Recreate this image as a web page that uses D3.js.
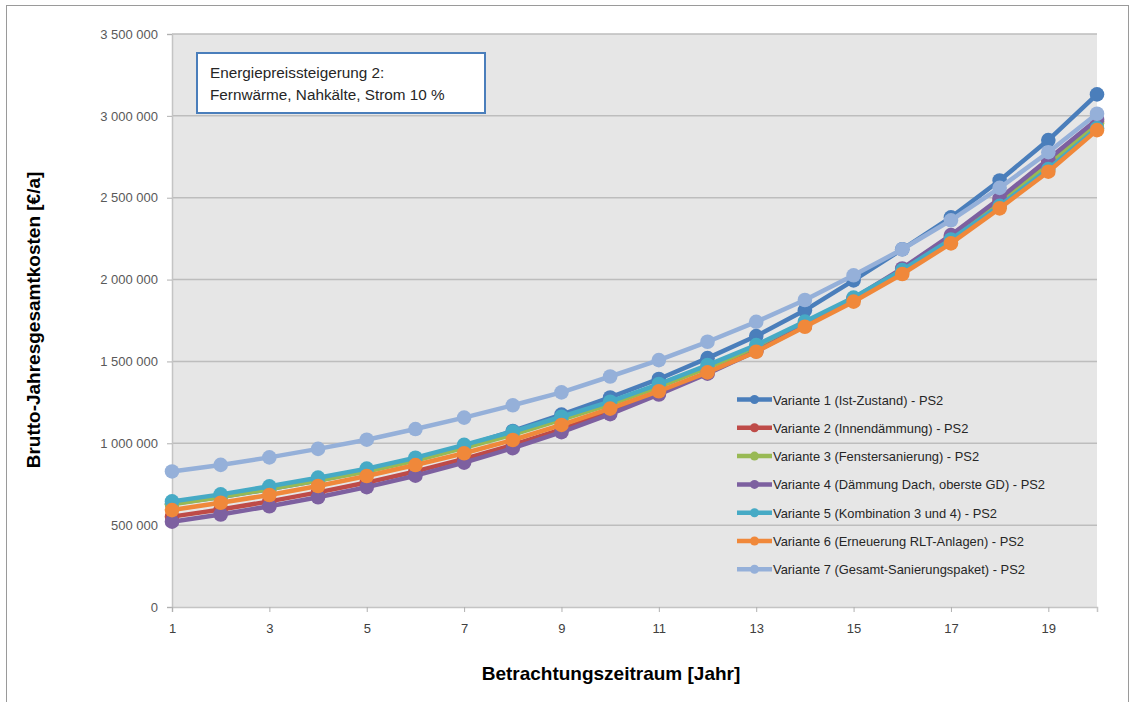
<!DOCTYPE html>
<html>
<head>
<meta charset="utf-8">
<script src="https://cdn.jsdelivr.net/npm/d3@7"></script>
<style>
  body { margin: 0; background: #fff; }
  svg { display: block; font-family: "Liberation Sans", Arial, sans-serif; }
</style>
</head>
<body>
<svg id="chart"></svg>
<script>
const years = d3.range(1, 21);
const xTicks = [1, 3, 5, 7, 9, 11, 13, 15, 17, 19];
const yTicks = [0, 500000, 1000000, 1500000, 2000000, 2500000, 3000000, 3500000];

const names = [
  "Variante 1 (Ist-Zustand) - PS2",
  "Variante 2 (Innendämmung) - PS2",
  "Variante 3 (Fenstersanierung) - PS2",
  "Variante 4 (Dämmung Dach, oberste GD) - PS2",
  "Variante 5 (Kombination 3 und 4) - PS2",
  "Variante 6 (Erneuerung RLT-Anlagen) - PS2",
  "Variante 7 (Gesamt-Sanierungspaket) - PS2"
];
const colors = ["#4a7ebb", "#be4b48", "#98b954", "#7d60a0", "#46aac5", "#f0883a", "#95b0d9"];

// values in thousand €/a
const v1 = [630, 672, 720, 773, 834, 902, 982, 1075, 1175, 1280, 1393, 1520, 1655, 1812, 1995, 2185, 2380, 2605, 2852, 3131];
const v2 = [552, 595, 645, 700, 760, 828, 905, 990, 1085, 1192, 1305, 1430, 1565, 1718, 1880, 2060, 2262, 2482, 2720, 2965];
const v3 = [628, 672, 720, 772, 828, 895, 972, 1053, 1145, 1238, 1345, 1462, 1585, 1730, 1880, 2050, 2240, 2470, 2700, 2955];
const v4 = [521, 565, 615, 670, 732, 802, 882, 970, 1068, 1178, 1298, 1425, 1562, 1718, 1885, 2068, 2272, 2495, 2735, 2978];
const v5 = [645, 688, 737, 790, 845, 912, 990, 1071, 1162, 1254, 1362, 1478, 1600, 1743, 1890, 2058, 2245, 2450, 2675, 2925];
const v6 = [592, 637, 684, 739, 800, 867, 939, 1020, 1112, 1212, 1318, 1433, 1559, 1712, 1865, 2034, 2221, 2435, 2659, 2913];
const v7 = [828, 868, 914, 966, 1022, 1087, 1157, 1232, 1311, 1408, 1508, 1620, 1742, 1875, 2026, 2185, 2362, 2560, 2778, 3013];
const seriesValues = [v1, v2, v3, v4, v5, v6, v7];

const width = 1134, height = 702;
const plotLeft = 172, plotRight = 1097, plotTop = 34, plotBottom = 607;

const svg = d3.select("#chart").attr("width", width).attr("height", height);

// outer chart frame
svg.append("rect")
  .attr("x", 6.5).attr("y", 5.5)
  .attr("width", 1122).attr("height", 710)
  .attr("fill", "none").attr("stroke", "#9a9a9a").attr("stroke-width", 1);

const x = d3.scaleLinear().domain([1, 20]).range([plotLeft, plotRight]);
const y = d3.scaleLinear().domain([0, 3500000]).range([plotBottom, plotTop]);

const de = d3.formatLocale({ decimal: ",", thousands: " ", grouping: [3], currency: ["", " €"] });
const fmt = de.format(",d");

// plot area
svg.append("rect")
  .attr("x", plotLeft).attr("y", plotTop)
  .attr("width", plotRight - plotLeft).attr("height", plotBottom - plotTop)
  .attr("fill", "#e6e6e6");

// gridlines
svg.append("g")
  .selectAll("line")
  .data(yTicks.filter(d => d > 0))
  .join("line")
  .attr("x1", plotLeft).attr("x2", plotRight)
  .attr("y1", d => y(d)).attr("y2", d => y(d))
  .attr("stroke", "#bdbdbd").attr("stroke-width", 1.5);

// axes
const yAxis = svg.append("g")
  .attr("transform", `translate(${plotLeft},0)`)
  .call(d3.axisLeft(y).tickValues(yTicks).tickFormat(fmt).tickSize(5).tickPadding(9));
yAxis.select(".domain").attr("stroke", "#c4c4c4").attr("stroke-width", 1.5);
yAxis.selectAll(".tick line").attr("stroke", "#b0b0b0");
yAxis.selectAll("text").attr("fill", "#595959").style("font-size", "13px");

const xAxis = svg.append("g")
  .attr("transform", `translate(0,${plotBottom})`)
  .call(d3.axisBottom(x).tickValues(xTicks).tickFormat(d3.format("d")).tickSize(5).tickPadding(12));
xAxis.select(".domain").attr("stroke", "#c4c4c4").attr("stroke-width", 1.5);
xAxis.selectAll(".tick line").attr("stroke", "#b0b0b0");
xAxis.selectAll("text").attr("fill", "#404040").style("font-size", "13px");

// series
const line = d3.line().x((d, i) => x(years[i])).y(d => y(d * 1000));

seriesValues.forEach((vals, s) => {
  const g = svg.append("g");
  g.append("path")
    .datum(vals)
    .attr("d", line)
    .attr("fill", "none")
    .attr("stroke", colors[s])
    .attr("stroke-width", 4.5)
    .attr("stroke-linejoin", "round");
  g.selectAll("circle")
    .data(vals)
    .join("circle")
    .attr("cx", (d, i) => x(years[i]))
    .attr("cy", d => y(d * 1000))
    .attr("r", 7.3)
    .attr("fill", colors[s]);
});

// annotation box
svg.append("rect")
  .attr("x", 197).attr("y", 53)
  .attr("width", 288).attr("height", 60)
  .attr("fill", "#fff").attr("stroke", "#4a7ebb").attr("stroke-width", 2);
svg.append("text")
  .attr("x", 210).attr("y", 78)
  .attr("fill", "#262626").style("font-size", "15.3px")
  .text("Energiepreissteigerung 2:");
svg.append("text")
  .attr("x", 210).attr("y", 100)
  .attr("fill", "#262626").style("font-size", "15.3px")
  .text("Fernwärme, Nahkälte, Strom 10 %");

// legend
const legend = svg.append("g")
  .selectAll("g")
  .data(names)
  .join("g")
  .attr("transform", (d, i) => `translate(737,${399.5 + i * 28.3})`);
legend.append("line")
  .attr("x1", 0).attr("x2", 35).attr("y1", 0).attr("y2", 0)
  .attr("stroke", (d, i) => colors[i]).attr("stroke-width", 4.5);
legend.append("circle")
  .attr("cx", 17.5).attr("cy", 0).attr("r", 4.5)
  .attr("fill", (d, i) => colors[i]);
legend.append("text")
  .attr("x", 36).attr("y", 5)
  .attr("fill", "#262626").style("font-size", "12.9px")
  .text(d => d);

// axis titles
svg.append("text")
  .attr("transform", "translate(40,320) rotate(-90)")
  .attr("text-anchor", "middle")
  .attr("font-weight", "bold").style("font-size", "19px")
  .attr("fill", "#000")
  .text("Brutto-Jahresgesamtkosten [€/a]");
svg.append("text")
  .attr("x", 611).attr("y", 680)
  .attr("text-anchor", "middle")
  .attr("font-weight", "bold").style("font-size", "19px")
  .attr("fill", "#000")
  .text("Betrachtungszeitraum [Jahr]");
</script>
</body>
</html>
